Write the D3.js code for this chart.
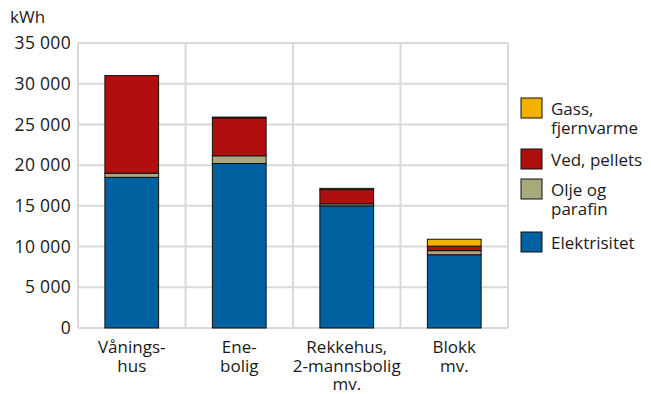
<!DOCTYPE html>
<head>
  <meta charset="utf-8">
  <script src="https://cdnjs.cloudflare.com/ajax/libs/d3/7.8.5/d3.min.js"></script>
  <style>
    body { margin: 0; background: #fff; }
    text { font-family: "Open Sans", sans-serif; fill: #1a1a1a; }
  </style>
</head>
<body>
<svg width="651" height="394"></svg>
<script>
var categories = [["Vånings-", "hus"], ["Ene-", "bolig"], ["Rekkehus,", "2-mannsbolig", "mv."], ["Blokk", "mv."]];
var series = ["Elektrisitet", "Olje og parafin", "Ved, pellets", "Gass, fjernvarme"];
var elektrisitet = [18500, 20200, 15000, 9000];
var olje = [500, 950, 250, 500];
var ved = [12000, 4650, 1750, 550];
var gass = [0, 100, 150, 850];
var yTicks = [0, 5000, 10000, 15000, 20000, 25000, 30000, 35000];
var colours = ["#0061a0", "#a8aa7d", "#b10e10", "#f3b100"];
var legendLabels = [["Gass,", "fjernvarme"], ["Ved, pellets"], ["Olje og", "parafin"], ["Elektrisitet"]];

var svg = d3.select("svg"),
    margin = {top: 43, left: 78, right: 143, bottom: 66},
    width = 651 - margin.left - margin.right,
    height = 394 - margin.top - margin.bottom;

var g = svg.append("g").attr("transform", "translate(" + margin.left + "," + margin.top + ")");

var keys = categories.map(function(d, i) { return i; });
var x = d3.scaleBand().domain(keys).range([0, width]).paddingInner(0.5).paddingOuter(0.25);
var y = d3.scaleLinear().domain([0, 35000]).range([height, 0]);

// grid
g.selectAll(".hgrid").data(yTicks).enter().append("line")
  .attr("x1", 0).attr("x2", width)
  .attr("y1", function(d) { return y(d); }).attr("y2", function(d) { return y(d); })
  .attr("stroke", "#d9d9d9").attr("stroke-width", 2);
var vlines = [0].concat(keys.map(function(k) { return x(k) + x.bandwidth() + x.step() * x.paddingInner() / 2; }));
vlines[vlines.length - 1] = width;
g.selectAll(".vgrid").data(vlines).enter().append("line")
  .attr("y1", 0).attr("y2", height)
  .attr("x1", function(d) { return d; }).attr("x2", function(d) { return d; })
  .attr("stroke", "#d9d9d9").attr("stroke-width", 2);

// y tick labels
g.selectAll(".ytick").data(yTicks).enter().append("text")
  .attr("x", -7).attr("y", function(d) { return y(d); }).attr("dy", "0.35em")
  .attr("text-anchor", "end").style("font-size", "17.5px").style("letter-spacing", "0.3px")
  .text(function(d) { return d3.format(",")(d).replace(/,/g, " "); });
svg.append("text").attr("x", 10).attr("y", 23).style("font-size", "17px").text("kWh");

// stacked bars
var table = keys.map(function(i) {
  return {i: i, "Elektrisitet": elektrisitet[i], "Olje og parafin": olje[i], "Ved, pellets": ved[i], "Gass, fjernvarme": gass[i]};
});
var stack = d3.stack().keys(series)(table);
g.selectAll(".layer").data(stack).enter().append("g")
  .attr("fill", function(d, i) { return colours[i]; })
  .selectAll("rect").data(function(d) { return d; }).enter().append("rect")
  .attr("x", function(d) { return x(d.data.i); })
  .attr("width", x.bandwidth())
  .attr("y", function(d) { return y(d[1]); })
  .attr("height", function(d) { return y(d[0]) - y(d[1]); })
  .attr("stroke", "#111").attr("stroke-width", 1);

// x labels
g.selectAll(".xlab").data(categories).enter().append("text")
  .attr("text-anchor", "middle").style("font-size", "17px")
  .attr("transform", function(d, i) { return "translate(" + (x(i) + x.bandwidth() / 2) + "," + (height + 25) + ")"; })
  .selectAll("tspan").data(function(d) { return d; }).enter().append("tspan")
  .attr("x", 0).attr("dy", function(d, j) { return j ? 18.5 : 0; })
  .text(function(d) { return d; });

// legend
var legendY = [98, 149, 179, 232];
var legendColours = [colours[3], colours[2], colours[1], colours[0]];
var lg = svg.append("g").attr("transform", "translate(521,0)");
lg.selectAll("rect").data(legendLabels).enter().append("rect")
  .attr("x", 0).attr("y", function(d, i) { return legendY[i]; })
  .attr("width", 21).attr("height", 20)
  .attr("fill", function(d, i) { return legendColours[i]; })
  .attr("stroke", "#111").attr("stroke-width", 1);
lg.selectAll(".ltext").data(legendLabels).enter().append("text")
  .style("font-size", "17px")
  .attr("transform", function(d, i) { return "translate(30," + (legendY[i] + 17) + ")"; })
  .selectAll("tspan").data(function(d) { return d; }).enter().append("tspan")
  .attr("x", 0).attr("dy", function(d, j) { return j ? 18.5 : 0; })
  .text(function(d) { return d; });
</script>
</body>
